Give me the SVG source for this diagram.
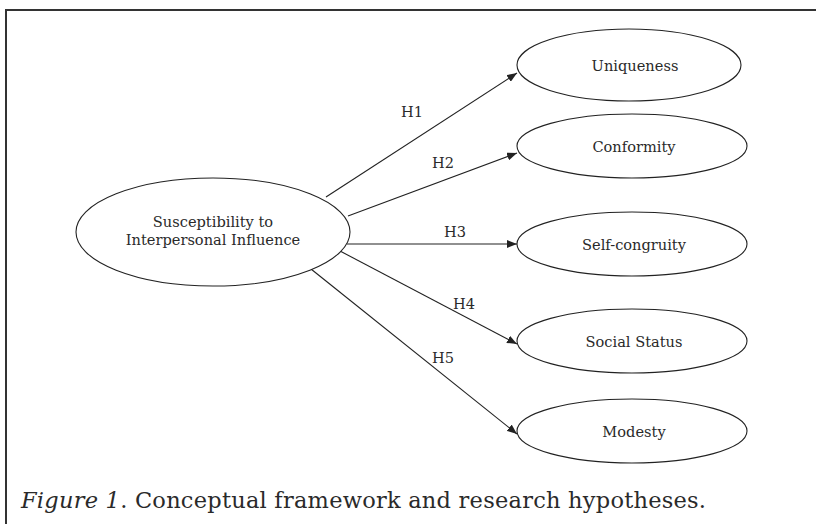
<svg xmlns="http://www.w3.org/2000/svg" width="816" height="524" viewBox="0 0 816 524">
<style>
.node ellipse{fill:#fff;stroke:#222;stroke-width:1.1}
.t{font-family:"DejaVu Serif","Liberation Serif",serif;font-size:14.6px;fill:#2a2a2a;text-anchor:middle}
.edge{stroke:#222;stroke-width:1.1;fill:none;marker-end:url(#ah)}
.cap{font-family:"DejaVu Serif","Liberation Serif",serif;font-size:22.5px;fill:#2a2a2a}
</style>
<defs>
<marker id="ah" viewBox="0 0 10 8" refX="10" refY="4" markerWidth="10" markerHeight="8" markerUnits="userSpaceOnUse" orient="auto">
<path d="M0,0 L10,4 L0,8 Z" fill="#222"/>
</marker>
</defs>
<rect width="816" height="524" fill="#fff"/>
<path d="M6,524 L6,10 L816,10" fill="none" stroke="#333" stroke-width="2"/>
<g id="connectors">
<line class="edge" x1="326" y1="197" x2="517" y2="73"/>
<line class="edge" x1="348" y1="216" x2="517" y2="153"/>
<line class="edge" x1="347" y1="244" x2="517" y2="244"/>
<line class="edge" x1="340" y1="251" x2="517" y2="344"/>
<line class="edge" x1="311" y1="269" x2="517" y2="434"/>
<text class="t" x="412" y="117">H1</text>
<text class="t" x="443" y="168">H2</text>
<text class="t" x="455" y="237">H3</text>
<text class="t" x="464" y="309">H4</text>
<text class="t" x="443" y="363">H5</text>
</g>
<g id="susceptibility" class="node">
<ellipse cx="213" cy="232" rx="137" ry="54"/>
<text class="t" x="213" y="227">Susceptibility to</text>
<text class="t" x="213" y="245">Interpersonal Influence</text>
</g>
<g id="uniqueness" class="node">
<ellipse cx="629" cy="65" rx="112" ry="36"/>
<text class="t" x="635" y="71">Uniqueness</text>
</g>
<g id="conformity" class="node">
<ellipse cx="632" cy="146" rx="115" ry="32"/>
<text class="t" x="634" y="152">Conformity</text>
</g>
<g id="selfcongruity" class="node">
<ellipse cx="632" cy="244" rx="115" ry="32"/>
<text class="t" x="634" y="250">Self-congruity</text>
</g>
<g id="socialstatus" class="node">
<ellipse cx="632" cy="341" rx="115" ry="32"/>
<text class="t" x="634" y="347">Social Status</text>
</g>
<g id="modesty" class="node">
<ellipse cx="632" cy="431" rx="115" ry="32"/>
<text class="t" x="634" y="437">Modesty</text>
</g>
<text class="cap" x="21" y="508" textLength="685" lengthAdjust="spacing"><tspan font-style="italic">Figure 1</tspan>. Conceptual framework and research hypotheses.</text>
</svg>
